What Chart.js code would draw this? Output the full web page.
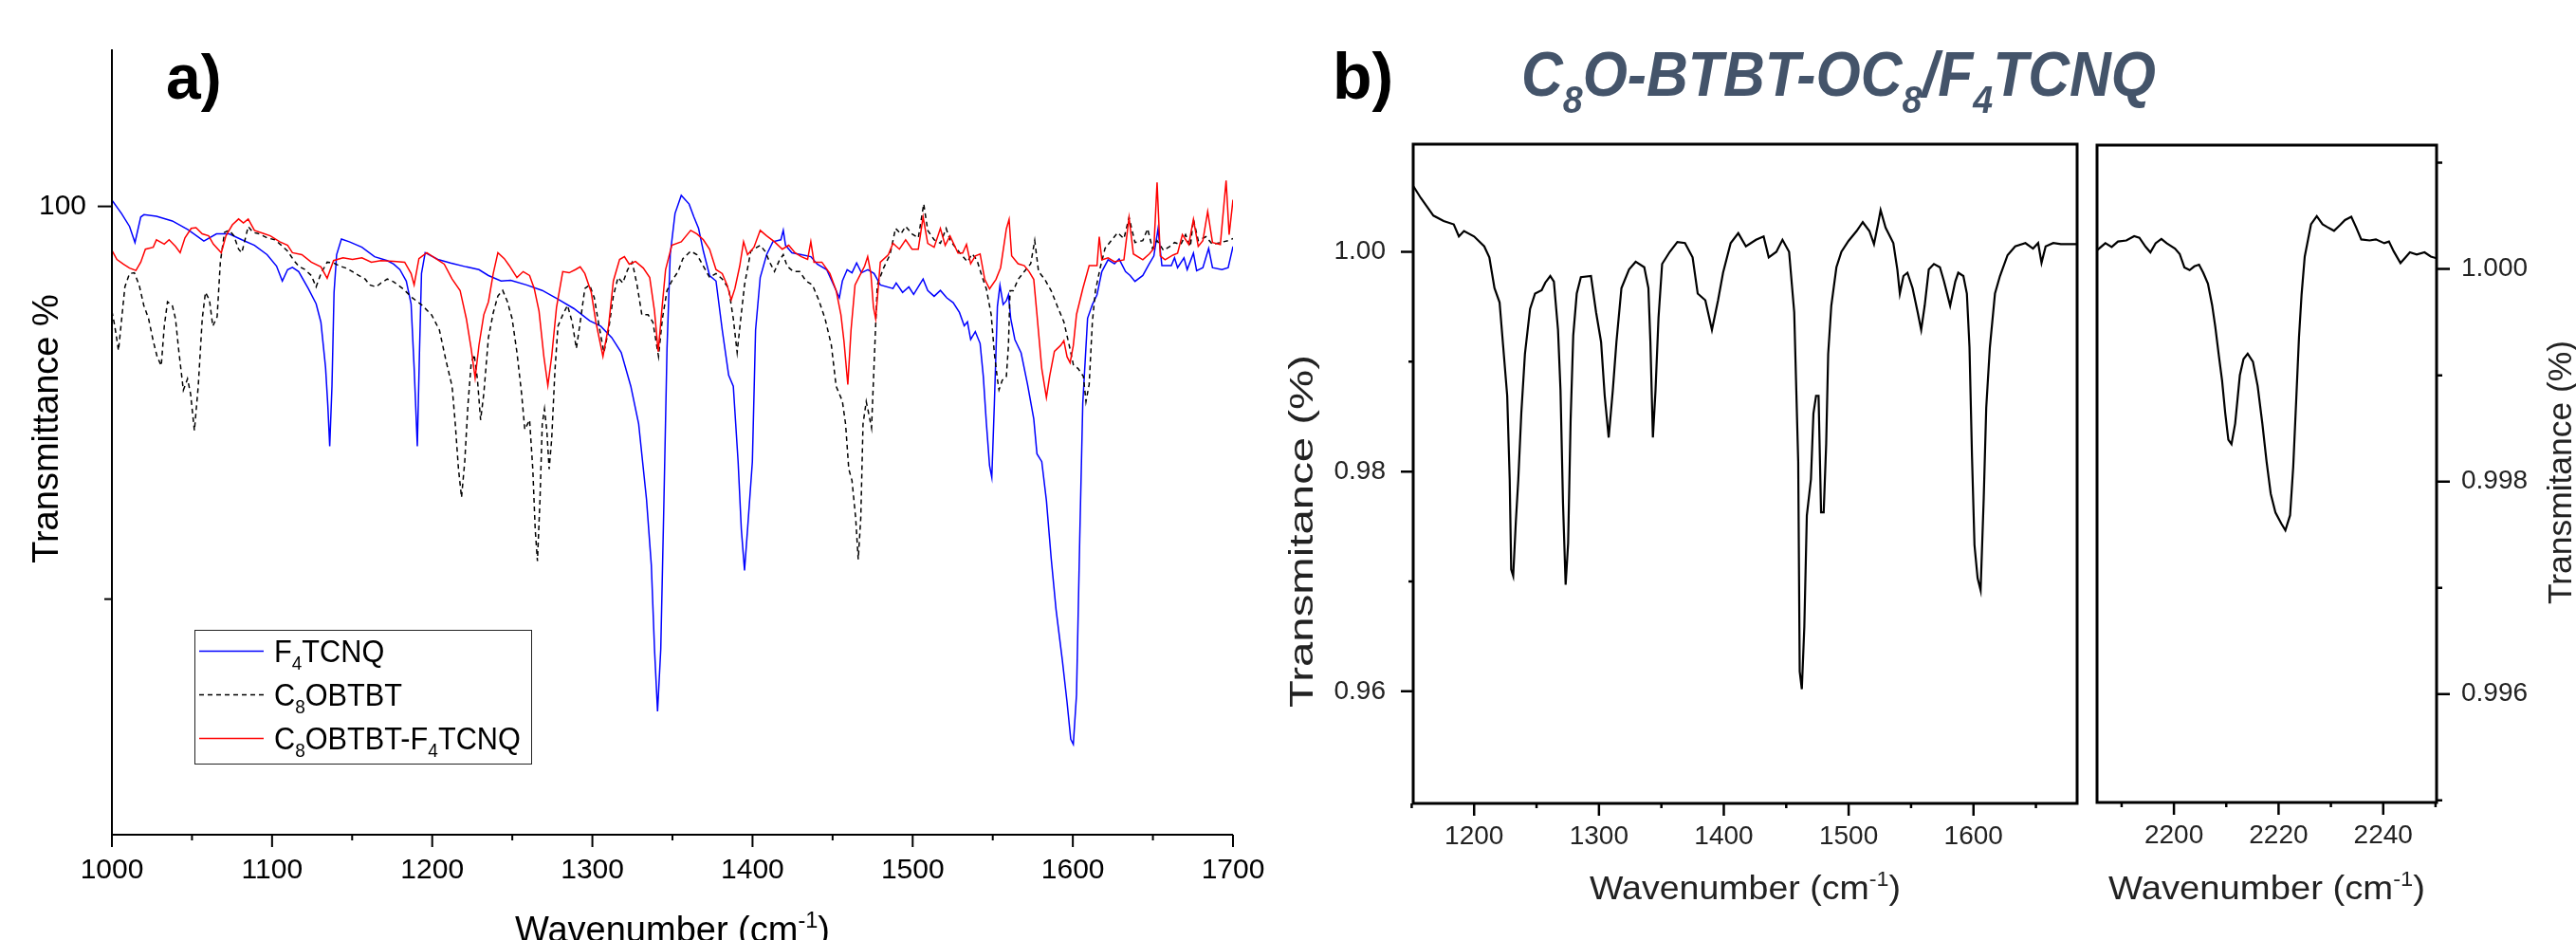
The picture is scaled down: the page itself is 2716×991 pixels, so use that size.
<!DOCTYPE html>
<html>
<head>
<meta charset="utf-8">
<script src="https://cdn.jsdelivr.net/npm/chart.js@4.4.1/dist/chart.umd.min.js"></script>
<style>
  html, body { margin: 0; padding: 0; background: #fff; }
  #wrap { position: relative; width: 2716px; height: 991px; overflow: hidden; }
  canvas { position: absolute; left: 0; top: 0; }
</style>
</head>
<body>
<div id="wrap">
  <canvas id="chart-a" width="2716" height="991"></canvas>
  <canvas id="chart-b" width="2716" height="991"></canvas>
  <canvas id="chart-c" width="2716" height="991"></canvas>
</div>
<script>
const FONT = '"Liberation Sans", Arial, sans-serif';

// ---- panel a: three FTIR spectra (wavenumber, transmittance %)
const f4tcnqWn = [1000,1006,1011,1014.4,1018,1020,1027.8,1037.7,1047.5,1057.4,1065.3,1073.2,1081.1,1089,1096.9,1102.8,1106.4,1109.7,1112.7,1116.6,1122.6,1127.5,1130.5,1133.4,1134.8,1136,1137.4,1138.7,1140.3,1143.3,1148.2,1156.1,1164,1171.9,1175.9,1179.8,1183.8,1186.8,1188.7,1190.7,1192.1,1193.3,1195.6,1203.5,1211.4,1221.3,1229.2,1235.1,1243,1249,1258.8,1268.7,1278.5,1288.4,1298.3,1305.2,1312.1,1318,1324,1328.9,1333.8,1336.8,1338.8,1340.7,1342.7,1344.7,1346.6,1348.6,1351.6,1355.5,1360.4,1363.4,1366.3,1369.3,1373.2,1377.2,1381.1,1385.1,1388,1391,1393,1395,1396.9,1399.9,1401.9,1404.8,1408.8,1412.7,1417.7,1419.2,1420.6,1424.6,1430.5,1436.4,1440.4,1446.3,1451.2,1454.2,1456.1,1459.1,1462.1,1465,1468,1472,1475.9,1479.8,1487.7,1489.7,1493.7,1497.6,1500.6,1506.5,1509.4,1513.4,1517.3,1521.3,1525.3,1529.2,1532.2,1534.2,1536.2,1539.1,1542.1,1544.1,1546,1548,1549.4,1551,1552.9,1554.5,1556.5,1558.5,1559.8,1561.2,1563.8,1567.7,1571.7,1575.6,1577.6,1580.6,1583.5,1586.5,1589.5,1593.4,1596.4,1598.7,1600.3,1602.3,1604.3,1606.2,1609.2,1612.2,1615.1,1618.1,1622,1626,1628.9,1632.9,1635.8,1638.8,1643.7,1647.7,1650.6,1653.2,1655.6,1661.5,1663.5,1665.4,1669.4,1671.4,1675.3,1677.3,1681.2,1684.8,1687.2,1693.1,1697,1700];
const f4tcnqT = [100.16,99.82,99.49,99.08,99.73,99.79,99.75,99.63,99.41,99.12,99.3,99.3,99.15,99.01,98.77,98.48,98.1,98.39,98.45,98.34,97.91,97.52,97.05,95.9,94.94,93.89,95.42,97.81,98.77,99.17,99.1,98.96,98.72,98.62,98.53,98.39,98.1,97.52,95.9,93.89,96.38,98.29,98.82,98.65,98.56,98.46,98.39,98.24,98.1,98.12,98,97.86,97.64,97.4,97.09,96.95,96.66,96.28,95.42,94.46,92.54,90.87,88.72,87.14,88.72,92.54,96.38,98.77,99.82,100.28,100.06,99.73,99.44,98.86,98.24,98.1,96.85,95.7,95.42,93.5,91.78,90.73,91.78,93.5,96.85,98.19,98.77,99.1,99.15,99.39,99.01,98.82,98.77,98.72,98.53,98.39,97.95,97.67,98.1,98.39,98.31,98.56,98.31,98.39,98.29,98,97.91,98.05,97.81,97.95,97.76,98.15,97.86,97.71,97.86,97.67,97.55,97.3,96.96,97.06,96.61,96.81,96.51,95.67,94.49,93.4,93.1,94.98,97.45,97.99,97.5,97.6,97.75,97.15,96.61,96.27,95.47,94.59,93.7,93.5,92.51,91.03,89.74,88.46,87.37,86.43,86.3,87.57,91.52,94.98,97.15,97.5,97.75,98.34,98.64,98.54,98.66,98.34,98.24,98.09,98.24,98.54,98.74,99.43,98.49,98.49,98.69,98.44,98.69,98.39,98.81,98.36,98.44,98.93,98.44,98.39,98.44,98.98];

const c8obtbtWn = [1000,1001.8,1004.1,1006.1,1008.1,1011,1014,1017,1019.9,1022.9,1025.8,1028.2,1030.8,1032.7,1034.7,1037.7,1039.7,1041.6,1044.6,1047.2,1049.1,1051.5,1053.9,1056.4,1058.4,1060.9,1063,1065.7,1067.7,1070.3,1073.2,1076.2,1079.1,1081.1,1083.1,1085.1,1088,1092,1096.9,1101.8,1105.8,1109.7,1113.7,1116.6,1120.6,1124.5,1127.5,1130.5,1134.4,1138.4,1142.3,1146.2,1150.2,1154.1,1158.1,1161,1165,1168,1171.9,1175.9,1181.8,1187.7,1193.7,1199.6,1204.5,1208.5,1212.4,1214.4,1216.4,1218.3,1220.3,1222.3,1224.3,1226.2,1228.2,1230.2,1232.2,1235.1,1238.1,1241,1244,1247,1249.9,1252.9,1255.8,1257.8,1260.8,1262.8,1264.3,1265.7,1267.3,1268.7,1270.1,1271.6,1273,1274.6,1276.6,1278.5,1281.5,1284.5,1287.4,1290,1292.4,1295.3,1298.3,1301.2,1304.2,1307.2,1310.1,1313.1,1316,1319,1322,1324.9,1327.9,1330.9,1334.8,1337.8,1341.3,1343.7,1346.6,1349.6,1353.5,1356.5,1361.4,1365.3,1369.3,1373.2,1377.2,1381.1,1385.1,1388,1390.4,1392.4,1395,1398.9,1404.8,1407.8,1410.7,1413.7,1416.7,1419.2,1421.6,1425.5,1429.5,1433.4,1437.4,1441.3,1445.3,1449.2,1452.2,1456.1,1458.1,1460.1,1462.1,1464.4,1466,1467.6,1469,1471,1472.9,1474.3,1476.3,1477.9,1481.8,1485.8,1489.3,1492.7,1495.6,1499.6,1503.5,1506.9,1509.4,1513.4,1517.3,1520.9,1523.3,1525.3,1529.2,1534.2,1537.1,1540.1,1543.1,1546,1549,1551,1553,1553.9,1555.9,1558.5,1559.8,1560.8,1562.8,1565.8,1569.7,1573.7,1576.2,1578.6,1582.5,1586.5,1590.4,1594.4,1598.3,1600.3,1603.3,1606.6,1608.2,1610.2,1612.2,1614.1,1617.1,1620.1,1624,1628,1631.9,1635.1,1638.8,1643.7,1646.7,1649.7,1652.6,1656.6,1660.5,1663.5,1667.4,1670.4,1673.4,1675.3,1678.3,1683.2,1687.2,1692.1,1697,1700];
const c8obtbtT = [97.33,96.95,96.33,97.14,97.95,98.29,98.31,98,97.48,97.14,96.57,96.18,95.94,96.95,97.57,97.48,97.14,96.38,95.32,95.61,95.23,94.29,95.42,97.14,97.81,97.62,96.95,97.19,98.58,99.34,99.39,99.25,98.91,98.82,99.15,99.49,99.34,99.3,99.2,99.15,99.01,98.86,98.62,98.48,98.39,98.24,97.95,98.29,98.58,98.56,98.48,98.43,98.34,98.24,98.15,98,97.95,98.05,98.15,98.08,97.9,97.67,97.48,97.24,96.85,96.09,95.42,94.46,93.31,92.59,93.5,94.94,95.99,96.23,95.61,94.56,95.23,96.66,97.29,97.72,97.86,97.57,97.14,96.28,95.23,94.32,94.56,93.31,91.78,90.97,92.54,94.46,94.84,94.27,93.31,94.08,95.8,96.95,97.24,97.48,97.05,96.38,97.05,97.91,98,97.67,96.95,96.28,96.85,97.72,98.19,98.05,98.39,98.58,98,97.24,97.24,97.05,96.18,97.14,97.86,98.1,98.34,98.67,98.86,98.77,98.48,98.19,98.29,98.15,97.91,97.14,96.28,97.05,98,98.86,99.01,98.86,98.58,98.34,98.62,98.77,98.48,98.34,98.34,98.1,98,97.62,97.14,96.47,95.42,95.04,94.46,93.31,93.02,92.07,91.01,92.07,94.46,95.03,94.65,94.36,96.38,98,98.43,98.77,99.44,99.3,99.49,99.3,99.2,100.06,99.39,99.15,99.06,99.44,99.15,99.03,98.83,98.59,98.79,98.64,98.24,97.9,97.25,96.26,95.57,95.33,95.57,95.67,96.46,97.85,97.85,98.14,98.34,98.54,99.13,98.34,98.14,97.85,97.45,97.06,96.36,95.97,95.87,95.67,95.03,95.47,97.06,97.85,98.44,98.93,99.13,99.33,99.18,99.72,99.08,99.13,99.43,98.93,99.13,98.88,98.98,99.08,99.03,99.28,98.98,99.67,99.13,99.23,99.03,99.08,99.13,99.18];

const blendWn = [1000,1003.1,1007.1,1011,1015,1018,1020.9,1025.8,1027.8,1032.7,1035.7,1039.7,1042.6,1045.6,1049.5,1052.5,1056.4,1060.4,1063.3,1068.3,1071.2,1075.2,1079.1,1082.1,1085.1,1089,1093.9,1098.9,1104.8,1109.7,1112.7,1118.6,1124.5,1130.5,1134.4,1138.4,1144.3,1150.2,1156.1,1162,1168,1175.9,1182.8,1186.8,1188.7,1191.7,1196.6,1201.6,1207.5,1212.4,1217.4,1221.3,1224.3,1226.8,1229.2,1232.2,1235.1,1238.1,1241,1245,1248,1252.9,1256.8,1260.8,1263.7,1266.7,1269.7,1272.2,1274.6,1277.6,1281.5,1285.5,1289.4,1292.4,1295.3,1299.3,1302.2,1306.6,1310.1,1313.1,1317,1320,1323,1326.9,1331.8,1335.8,1338.8,1341.1,1343.3,1345.7,1349.6,1355.5,1361.4,1365.3,1369.3,1373.2,1377.2,1381.1,1384.1,1386.7,1389,1392,1394.4,1396.9,1400.9,1404.8,1408.8,1413.7,1418.6,1422.6,1426.5,1430.5,1434.4,1436.4,1438.4,1443.3,1448.3,1452.2,1455.2,1457.1,1459.5,1461.5,1464,1467,1470,1471.9,1473.9,1475.5,1476.9,1479.8,1484.8,1487.7,1491.7,1495.6,1499.6,1503.5,1506.5,1509.4,1513.4,1517.3,1520.3,1523.3,1528.3,1531.2,1533.6,1536.2,1539.1,1542.1,1545,1548,1552,1554.9,1558.5,1560.2,1561.8,1565.8,1569.7,1572.7,1575.6,1577.6,1580.6,1583.5,1585.5,1588.5,1592.4,1594.4,1596.4,1598.3,1600.3,1602.3,1606.2,1610.2,1615.1,1616.5,1618.1,1622,1626,1631.9,1635.1,1637.8,1643.7,1647.7,1650.6,1652.6,1654.6,1657.6,1662.5,1665.4,1668.4,1672.4,1675.3,1678.3,1681.2,1684.2,1687.2,1692.1,1695.7,1697.6,1700];
const blendT = [98.88,98.65,98.53,98.43,98.37,98.58,98.91,98.96,99.15,99.04,99.15,98.98,98.82,99.2,99.44,99.46,99.3,99.25,99.04,98.82,99.25,99.53,99.68,99.58,99.68,99.39,99.32,99.25,99.1,99.01,98.82,98.77,98.58,98.46,98.17,98.62,98.69,98.65,98.69,98.58,98.62,98.6,98.58,98.29,98,98.67,98.82,98.69,98.53,98.15,97.86,97.14,96.38,95.63,96.47,97.24,97.57,98.29,98.82,98.67,98.5,98.19,98.34,98.24,97.91,97.33,96.18,95.44,96.18,97.43,98.34,98.31,98.39,98.46,98.29,97.81,97.05,96.18,96.95,98.1,98.65,98.72,98.53,98.6,98.43,98.19,97.33,96.3,97.33,98.39,99.01,99.1,99.39,99.3,99.15,98.91,98.39,98.29,98,97.62,97.91,98.48,99.1,98.77,98.96,99.39,99.25,99.1,98.91,99.01,98.82,98.72,98.65,99.1,98.58,98.58,98.29,97.86,97.24,96.57,95.46,96.85,98,98.24,98.48,98.72,98.29,97.43,97.14,98.58,98.77,99.06,98.91,99.15,98.91,98.91,99.73,99.06,98.96,99.44,99.01,99.25,98.81,98.81,99.03,98.54,98.74,98.79,98.14,97.9,98.14,98.44,99.43,99.67,98.74,98.54,98.49,98.34,98.14,97.25,95.87,95.13,95.67,96.31,96.46,96.58,96.17,96.02,96.46,97.25,97.9,98.49,98.49,99.23,98.64,98.69,98.59,98.64,99.72,98.79,98.64,98.79,98.93,100.61,98.74,98.64,98.76,98.81,99.28,99.03,99.67,98.98,99.13,99.87,99.08,99.03,100.66,99.28,100.17];

const xTicksA = [1000, 1100, 1200, 1300, 1400, 1500, 1600, 1700];
const xMinorA = [1050, 1150, 1250, 1350, 1450, 1550, 1650];
const yTicksA = [100];
const yMinorA = [90];
const legendA = ['F4TCNQ', 'C8OBTBT', 'C8OBTBT-F4TCNQ'];

// ---- panel b: blend spectrum, 1150-1680 cm-1
const blendBWn = [1151.2,1157.3,1167.4,1175.6,1183.7,1187.8,1191.9,1200,1208.1,1212.2,1216.3,1220.4,1223.2,1226.5,1228.5,1229.7,1231.3,1233.4,1235.4,1237.8,1240.7,1244.8,1248.8,1254.1,1257,1261,1263.9,1267.2,1269.2,1271.2,1273.3,1275.3,1277.3,1279.4,1282.2,1285.5,1293.6,1297.7,1301.7,1304.6,1307.8,1311.1,1314,1318,1324.1,1329.4,1336.3,1339.6,1341.2,1343.2,1345.3,1347.7,1350.6,1356.7,1362.8,1368.9,1375,1379.1,1385.2,1390.5,1395.4,1399.4,1405.5,1411.6,1417.7,1425.8,1431.9,1436,1442.1,1447,1452.3,1456.4,1459.6,1460.8,1462.5,1464.5,1466.5,1469.8,1471.8,1473.9,1475.9,1477.9,1480,1482,1483.6,1486.1,1490.2,1494.2,1499.9,1506.4,1511.3,1516.6,1520.3,1523.5,1525.6,1529.6,1535.8,1539,1541,1543.9,1547.1,1551.2,1555.3,1558.1,1560.9,1564.2,1568.3,1573.1,1576.4,1581.3,1585.4,1587.8,1591.9,1594.7,1596.8,1598.8,1600.8,1603.3,1605.7,1608.2,1610.2,1613.1,1617.2,1621.2,1627.3,1633.4,1641.6,1647.7,1651.8,1654.5,1657.8,1663.9,1670,1683];
const blendBT = [1.006,1.0049,1.0033,1.0028,1.0025,1.0014,1.0019,1.0014,1.0005,0.9995,0.9967,0.9954,0.9915,0.9869,0.9793,0.9711,0.9705,0.9754,0.9793,0.9853,0.9907,0.9948,0.9962,0.9965,0.9972,0.9978,0.9973,0.9929,0.9874,0.9771,0.9697,0.9735,0.9847,0.9924,0.9962,0.9977,0.9978,0.9945,0.9918,0.9869,0.9831,0.9874,0.9918,0.9967,0.9984,0.9991,0.9986,0.9967,0.9918,0.9831,0.9874,0.994,0.9989,1,1.0009,1.0008,0.9995,0.9962,0.9956,0.9929,0.9956,0.9981,1.0008,1.0017,1.0005,1.0011,1.0014,0.9995,1,1.0011,1,0.9945,0.9809,0.9618,0.9602,0.9659,0.976,0.9793,0.9853,0.9869,0.9869,0.9763,0.9763,0.9825,0.9907,0.9951,0.9986,1,1.001,1.0019,1.0027,1.0019,1.0007,1.0025,1.0038,1.0022,1.0008,0.9984,0.9962,0.9978,0.9981,0.9967,0.9945,0.9929,0.9951,0.9984,0.9989,0.9986,0.9973,0.9951,0.9973,0.9981,0.9978,0.9962,0.9913,0.9814,0.9733,0.9703,0.9692,0.9776,0.9858,0.9913,0.9962,0.9978,0.9997,1.0005,1.0008,1.0003,1.0008,0.999,1.0005,1.0008,1.0007,1.0007];
const xTicksB = [1200, 1300, 1400, 1500, 1600];
const xMinorB = [1150, 1250, 1350, 1450, 1550, 1650];
const yTicksB = [0.96, 0.98, 1.00];
const yMinorB = [0.97, 0.99];

// ---- panel c: blend spectrum, nitrile region
const blendCWn = [2185.3,2186.9,2188.1,2189.3,2190.9,2192.4,2193.4,2194.6,2195.5,2196.5,2197.6,2198.6,2200.2,2201.1,2202,2203,2203.9,2204.8,2205.6,2206.5,2207.3,2207.9,2208.6,2209.2,2209.8,2210.4,2211,2211.7,2212.6,2213.3,2214.1,2215.1,2216,2216.9,2217.7,2218.5,2219.4,2220.5,2221.3,2222.2,2222.8,2223.4,2223.9,2224.4,2225,2225.6,2226.2,2227.3,2228.4,2229.3,2230.6,2231.7,2232.7,2233.9,2234.8,2235.8,2237.4,2238.6,2240.2,2241.1,2242,2243.3,2244.2,2245.1,2246.4,2247.9,2249.1,2250.2];
const blendCT = [1.000177,1.000243,1.000208,1.000259,1.000269,1.000309,1.000294,1.000208,1.000157,1.000243,1.000284,1.000243,1.000193,1.000142,1.000015,0.99999,1.000025,1.000041,0.999965,0.999863,0.99966,0.999458,0.999179,0.998951,0.998646,0.998393,0.998352,0.998545,0.999001,0.999153,0.999204,0.999128,0.9989,0.998545,0.99819,0.997886,0.997708,0.997607,0.997541,0.997683,0.998139,0.998798,0.999356,0.999762,1.000117,1.000269,1.000421,1.000497,1.000421,1.000395,1.00036,1.000411,1.000461,1.000492,1.000395,1.000279,1.000269,1.000279,1.000243,1.000259,1.000167,1.000056,1.000106,1.000157,1.000137,1.000157,1.000117,1.000101];
const xTicksC = [2200, 2220, 2240];
const xMinorC = [2190, 2210, 2230, 2250];
const yTicksC = [0.996, 0.998, 1.000];
const yMinorC = [0.995, 0.997, 0.999, 1.001];

function pts(xs, ys) {
    return xs.map((x, i) => ({ x: x, y: ys[i] }));
}

// text with sub/superscripts, optionally squeezed to a width and rotated
function drawRich(ctx, parts, x, y, o) {
    const size = o.size, style = o.style || '';
    const small = size * (o.subScale || 0.62);
    const fontOf = (k) => (style + ' ' + (k ? small : size) + 'px ' + FONT).trim();
    let w = 0;
    parts.forEach(p => { ctx.font = fontOf(p[1]); w += ctx.measureText(p[0]).width; });
    const sx = o.width ? o.width / w : (o.sx || 1);
    ctx.save();
    ctx.translate(x, y);
    if (o.rotate) ctx.rotate(o.rotate);
    ctx.scale(sx, 1);
    let cx = o.align === 'center' ? -w / 2 : 0;
    ctx.fillStyle = o.color || '#000';
    ctx.textAlign = 'left';
    ctx.textBaseline = 'alphabetic';
    parts.forEach(p => {
        ctx.font = fontOf(p[1]);
        let dy = 0;
        if (p[1] === 'sub') dy = size * (o.subDrop || 0.25);
        if (p[1] === 'sup') dy = -size * (o.supRise || 0.4);
        ctx.fillText(p[0], cx, dy);
        cx += ctx.measureText(p[0]).width;
    });
    ctx.restore();
}

function tickMarks(ctx, scale, values, len, side, lw) {
    ctx.lineWidth = lw;
    ctx.strokeStyle = '#000';
    ctx.beginPath();
    values.forEach(v => {
        const p = scale.getPixelForValue(v);
        if (side === 'bottom') { ctx.moveTo(p, scale.top); ctx.lineTo(p, scale.top + len); }
        else if (side === 'left') { ctx.moveTo(scale.right, p); ctx.lineTo(scale.right - len, p); }
        else { ctx.moveTo(scale.left, p); ctx.lineTo(scale.left + len, p); }
    });
    ctx.stroke();
}

function sub(text) {
    // "F4TCNQ" -> [['F'],['4','sub'],['TCNQ']]
    const parts = [];
    text.replace(/([A-Z])(\d)/g, '$1\u0001$2\u0001').split('\u0001').forEach((s, i) => {
        if (s) parts.push(i % 2 ? [s, 'sub'] : [s]);
    });
    return parts;
}

const wavenumberTitle = [['Wavenumber (cm'], ['-1', 'sup'], [')']];

const panelA = {
    id: 'panelA',
    afterDraw(chart) {
        const ctx = chart.ctx, a = chart.chartArea;
        const sx = chart.scales.x, sy = chart.scales.y;
        ctx.save();
        ctx.strokeStyle = '#000';
        ctx.lineWidth = 2;
        ctx.beginPath();
        ctx.moveTo(a.left, a.top);
        ctx.lineTo(a.left, a.bottom);
        ctx.lineTo(a.right, a.bottom);
        ctx.stroke();
        tickMarks(ctx, sx, xTicksA, 13, 'bottom', 2);
        tickMarks(ctx, sx, xMinorA, 6, 'bottom', 2);
        tickMarks(ctx, sy, yTicksA, 15, 'left', 2);
        tickMarks(ctx, sy, yMinorA, 8, 'left', 2);

        drawRich(ctx, wavenumberTitle, (a.left + a.right) / 2, 993, { size: 38, align: 'center' });
        drawRich(ctx, [['Transmittance %']], 61, 452, { size: 38, align: 'center', rotate: -Math.PI / 2 });
        drawRich(ctx, [['a)']], 175, 104, { size: 66, style: 'bold' });

        // legend box
        ctx.lineWidth = 1;
        ctx.strokeStyle = '#222';
        ctx.strokeRect(205.5, 664.5, 355, 141);
        const rows = [686, 732, 778];
        chart.data.datasets.forEach((ds, i) => {
            ctx.save();
            ctx.strokeStyle = ds.borderColor;
            ctx.lineWidth = ds.borderWidth;
            ctx.setLineDash(ds.borderDash || []);
            ctx.beginPath();
            ctx.moveTo(210, rows[i] + 0.5);
            ctx.lineTo(278, rows[i] + 0.5);
            ctx.stroke();
            ctx.restore();
            drawRich(ctx, sub(legendA[i]), 289, rows[i] + 12, { size: 33, sx: 0.93, subDrop: 0.25 });
        });
        ctx.restore();
    }
};

const panelB = {
    id: 'panelB',
    afterDraw(chart) {
        const ctx = chart.ctx, a = chart.chartArea;
        const sx = chart.scales.x, sy = chart.scales.y;
        ctx.save();
        ctx.strokeStyle = '#000';
        ctx.lineWidth = 3;
        ctx.strokeRect(a.left, a.top, a.right - a.left, a.bottom - a.top);
        tickMarks(ctx, sx, xTicksB, 13, 'bottom', 2.5);
        tickMarks(ctx, sx, xMinorB, 5, 'bottom', 2.5);
        tickMarks(ctx, sy, yTicksB, 13, 'left', 2.5);
        tickMarks(ctx, sy, yMinorB, 5, 'left', 2.5);

        drawRich(ctx, [['b)']], 1405, 104, { size: 68, style: 'bold' });
        drawRich(ctx, [['C'], ['8', 'sub'], ['O-BTBT-OC'], ['8', 'sub'], ['/F'], ['4', 'sub'], ['TCNQ']],
            1604, 101, { size: 66, style: 'italic bold', color: '#44546a', width: 669, subDrop: 0.28, subScale: 0.62 });
        drawRich(ctx, wavenumberTitle, (a.left + a.right) / 2, 948, { size: 35, align: 'center', width: 328, color: '#222' });
        drawRich(ctx, [['Transmitance (%)']], 1384, 560, { size: 35, align: 'center', width: 372, rotate: -Math.PI / 2, color: '#222' });
        ctx.restore();
    }
};

const panelC = {
    id: 'panelC',
    afterDraw(chart) {
        const ctx = chart.ctx, a = chart.chartArea;
        const sx = chart.scales.x, sy = chart.scales.y;
        ctx.save();
        ctx.strokeStyle = '#000';
        ctx.lineWidth = 3;
        ctx.strokeRect(a.left, a.top, a.right - a.left, a.bottom - a.top);
        tickMarks(ctx, sx, xTicksC, 13, 'bottom', 2.5);
        tickMarks(ctx, sx, xMinorC, 5, 'bottom', 2.5);
        tickMarks(ctx, sy, yTicksC, 14, 'right', 2.5);
        tickMarks(ctx, sy, yMinorC, 6, 'right', 2.5);

        drawRich(ctx, wavenumberTitle, (a.left + a.right) / 2, 948, { size: 35, align: 'center', width: 334, color: '#222' });
        drawRich(ctx, [['Transmitance (%)']], 2711, 498, { size: 35, align: 'center', width: 278, rotate: -Math.PI / 2, color: '#222' });
        ctx.restore();
    }
};

function axis(min, max, ticks, fmt, size, padding, fit, extra) {
    return Object.assign({
        type: 'linear',
        min: min,
        max: max,
        grid: { display: false, drawTicks: false },
        border: { display: false },
        afterBuildTicks: s => { s.ticks = ticks.map(v => ({ value: v })); },
        afterFit: fit,
        ticks: {
            autoSkip: false, maxRotation: 0, minRotation: 0, padding: padding,
            color: extra && extra.color || '#000',
            font: { family: FONT, size: size },
            callback: fmt
        }
    }, extra && extra.opts || {});
}

const baseOptions = {
    responsive: false,
    animation: false,
    devicePixelRatio: 1,
    elements: { point: { radius: 0 }, line: { tension: 0, fill: false } },
    plugins: { legend: { display: false }, tooltip: { enabled: false } }
};

new Chart(document.getElementById('chart-a'), {
    type: 'line',
    data: {
        datasets: [
            { label: legendA[0], data: pts(f4tcnqWn, f4tcnqT), borderColor: '#0000ff', borderWidth: 1.5, order: 2 },
            { label: legendA[1], data: pts(c8obtbtWn, c8obtbtT), borderColor: '#000000', borderWidth: 1.5, borderDash: [5, 4], order: 1 },
            { label: legendA[2], data: pts(blendWn, blendT), borderColor: '#ff0000', borderWidth: 1.5, order: 0 }
        ]
    },
    options: Object.assign({}, baseOptions, {
        layout: { padding: { left: 0, top: 52, right: 1416, bottom: 0 } },
        scales: {
            x: axis(1000, 1700, xTicksA, v => String(v), 30, 20, s => { s.height = 111; }),
            y: axis(84, 104, yTicksA, v => String(v), 30, 27, s => { s.width = 118; })
        }
    }),
    plugins: [panelA]
});

new Chart(document.getElementById('chart-b'), {
    type: 'line',
    data: {
        datasets: [
            { label: 'C8O-BTBT-OC8/F4TCNQ', data: pts(blendBWn, blendBT), borderColor: '#000000', borderWidth: 2.2 }
        ]
    },
    options: Object.assign({}, baseOptions, {
        layout: { padding: { left: 1390, top: 152, right: 526, bottom: 44 } },
        scales: {
            x: axis(1151.2, 1683, xTicksB, v => String(v), 28, 18, s => { s.height = 100; }, { color: '#222' }),
            y: axis(0.9498, 1.0098, yTicksB, v => v.toFixed(2), 28, 29, s => { s.width = 100; }, { color: '#222' })
        }
    }),
    plugins: [panelB]
});

new Chart(document.getElementById('chart-c'), {
    type: 'line',
    data: {
        datasets: [
            { label: 'C8O-BTBT-OC8/F4TCNQ', data: pts(blendCWn, blendCT), borderColor: '#000000', borderWidth: 2.2 }
        ]
    },
    options: Object.assign({}, baseOptions, {
        layout: { padding: { left: 2211, top: 153, right: 47, bottom: 45 } },
        scales: {
            x: axis(2185.3, 2250.2, xTicksC, v => String(v), 28, 18, s => { s.height = 100; }, { color: '#222' }),
            y: axis(0.99498, 1.001166, yTicksC, v => v.toFixed(3), 28, 26, s => { s.width = 100; }, { color: '#222', opts: { position: 'right' } })
        }
    }),
    plugins: [panelC]
});
</script>
</body>
</html>
